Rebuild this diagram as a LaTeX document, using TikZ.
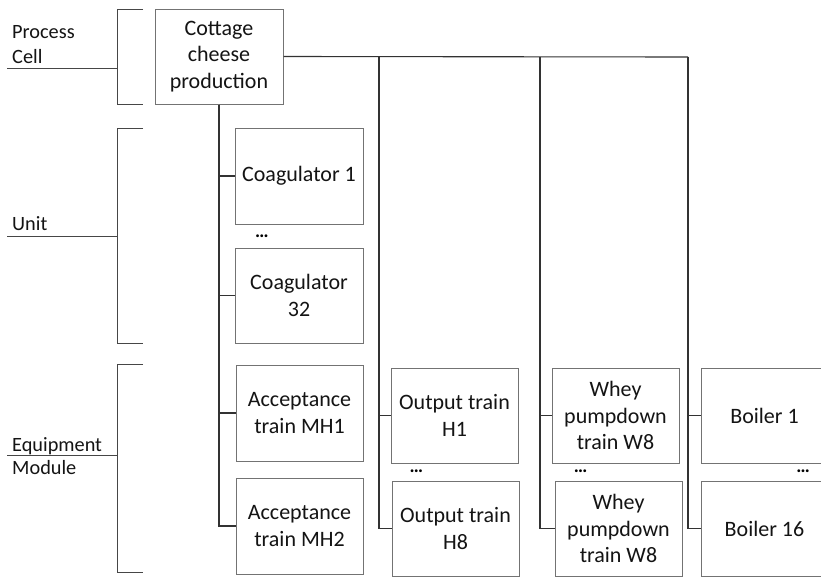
\documentclass[tikz,border=0pt]{standalone}
\usepackage{fontspec}
\setmainfont{Carlito}
\definecolor{boxgray}{RGB}{115,115,115}
\definecolor{conngray}{RGB}{50,50,50}
\definecolor{brkgray}{RGB}{70,70,70}
\definecolor{txtgray}{RGB}{20,20,20}
\begin{document}
\begin{tikzpicture}[x=1pt,y=-1pt,
  box/.style={draw=boxgray, line width=1pt, minimum width=127pt, minimum height=95pt, inner sep=0pt, align=center, font=\fontsize{22}{26.5}\selectfont, text=txtgray},
  lbl/.style={font=\fontsize{20.3}{24}\selectfont, anchor=base west, inner sep=0pt, text=txtgray},
  dots/.style={font=\fontsize{19}{20}\bfseries\selectfont, anchor=base, inner sep=0pt},
  conn/.style={draw=conngray, line width=1.1pt},
  brk/.style={draw=brkgray, line width=1pt}]
\useasboundingbox (0,0) rectangle (821,576);
\clip (0,0) rectangle (821,576);
\fill[white] (0,0) rectangle (821,576);

% left level brackets
\draw[brk] (143,9) -- (117,9) -- (117,104) -- (143,104);
\draw[brk] (7,68) -- (117,68);
\draw[brk] (143,128) -- (117,128) -- (117,343) -- (143,343);
\draw[brk] (7,236) -- (117,236);
\draw[brk] (143,364) -- (117,364) -- (117,572) -- (143,572);
\draw[brk] (7,455) -- (117,455);
\node[lbl] (lp1) at (12,38.5) {Process};
\node[lbl] (lp2) at (12,63) {Cell};
\node[lbl] (lu) at (12,230) {Unit};
\node[lbl] (le1) at (12,451) {Equipment};
\node[lbl] (le2) at (12,474) {Module};

% boxes
\node[box, minimum width=128pt] (cot) at (219,56.5) {Cottage\\cheese\\production};
\node[box, minimum width=128pt, minimum height=96pt] (co1) at (299,176) {Coagulator 1};
\node[box, minimum width=128pt] (co32) at (299,295.5) {Coagulator\\32};
\node[box, minimum height=96pt] (ac1) at (299.5,413) {Acceptance\\train MH1};
\node[box, minimum height=96pt] (ac2) at (299.5,526) {Acceptance\\train MH2};
\node[box] (ou1) at (454.5,415.5) {Output train\\H1};
\node[box] (ou8) at (455.5,528.5) {Output train\\H8};
\node[box] (wh1) at (615.5,415.5) {Whey\\pumpdown\\train W8};
\node[box] (wh2) at (618.5,528.5) {Whey\\pumpdown\\train W8};
\node[box] (bo1) at (764.5,415.5) {Boiler 1};
\node[box] (bo16) at (764.5,528.5) {Boiler 16};

% dots
\node[dots] (d1) at (262,237) {…};
\node[dots] (d2) at (416.5,472) {…};
\node[dots] (d3) at (580.5,472) {…};
\node[dots] (d4) at (803,472) {…};

% connectors
\coordinate (j1) at (379,57);
\coordinate (j2) at (540,57);
\coordinate (j3) at (688,57);
\draw[conn] (cot.east) -- (j3);
\draw[conn] (cot.south) |- (co1.west);
\draw[conn] (cot.south) |- (co32.west);
\draw[conn] (cot.south) |- (ac1.west);
\draw[conn] (cot.south) |- (ac2.west);
\draw[conn] (j1) |- (ou1.west);
\draw[conn] (j1) |- (ou8.west);
\draw[conn] (j2) |- (wh1.west);
\draw[conn] (j2) |- (wh2.west);
\draw[conn] (j3) |- (bo1.west);
\draw[conn] (j3) |- (bo16.west);
\end{tikzpicture}
\end{document}
